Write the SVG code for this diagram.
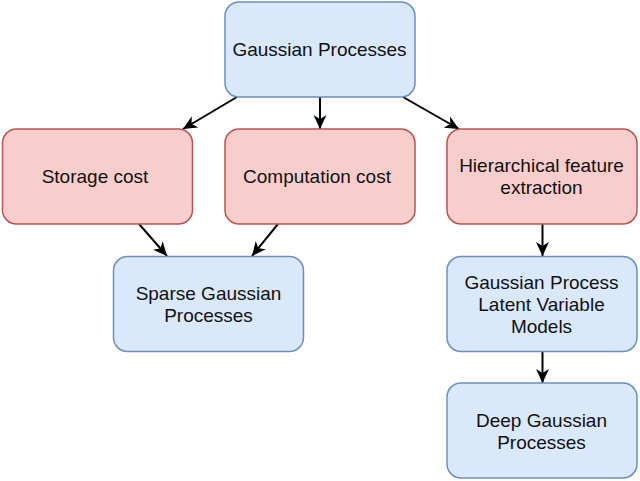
<svg xmlns="http://www.w3.org/2000/svg" width="640" height="481" viewBox="0 0 640 481">
<style>
.blue{fill:#dae8fc;stroke:#6c8ebf;stroke-width:1.5}
.red{fill:#f8cecc;stroke:#b85450;stroke-width:1.5}
text{font-family:"Liberation Sans",Arial,sans-serif;font-size:19px;fill:#111;text-anchor:middle}
.edge{stroke:#000;stroke-width:2;fill:none;marker-end:url(#arr)}
</style>
<defs>
<marker id="arr" markerUnits="userSpaceOnUse" markerWidth="16" markerHeight="14" viewBox="0 0 16 14" refX="14" refY="7" orient="auto">
<path d="M0,0.5 L14,7 L0,13.5 L4,7 Z" fill="#000"/>
</marker>
</defs>
<rect width="640" height="481" fill="#fff"/>
<g id="connectors">
<line class="edge" x1="237" y1="97" x2="183" y2="129"/>
<line class="edge" x1="320" y1="97" x2="320" y2="129"/>
<line class="edge" x1="403" y1="97" x2="459" y2="129"/>
<line class="edge" x1="139" y1="224" x2="167" y2="256"/>
<line class="edge" x1="278" y1="224" x2="252" y2="256"/>
<line class="edge" x1="542.5" y1="224" x2="542.5" y2="256"/>
<line class="edge" x1="542.5" y1="352" x2="542.5" y2="383"/>
</g>
<g id="gp">
<rect class="blue" x="225" y="2" width="190" height="95" rx="14" ry="14"/>
<text x="319.5" y="56">Gaussian Processes</text>
</g>
<g id="storage">
<rect class="red" x="2.5" y="129" width="190" height="95" rx="14" ry="14"/>
<text x="95" y="183">Storage cost</text>
</g>
<g id="computation">
<rect class="red" x="225" y="129" width="190" height="95" rx="14" ry="14"/>
<text x="317" y="183">Computation cost</text>
</g>
<g id="hierarchical">
<rect class="red" x="447" y="129" width="190" height="95" rx="14" ry="14"/>
<text x="541.5" y="172">Hierarchical feature</text>
<text x="541.5" y="194">extraction</text>
</g>
<g id="sparse">
<rect class="blue" x="113.5" y="256.5" width="190" height="95" rx="14" ry="14"/>
<text x="208.5" y="299.5">Sparse Gaussian</text>
<text x="208.5" y="321.5">Processes</text>
</g>
<g id="gplvm">
<rect class="blue" x="447" y="256.5" width="190" height="95" rx="14" ry="14"/>
<text x="541.5" y="288.5">Gaussian Process</text>
<text x="541.5" y="310.5">Latent Variable</text>
<text x="541.5" y="332.5">Models</text>
</g>
<g id="deep">
<rect class="blue" x="447" y="383" width="190" height="95" rx="14" ry="14"/>
<text x="541.5" y="426.5">Deep Gaussian</text>
<text x="541.5" y="448.5">Processes</text>
</g>
</svg>
